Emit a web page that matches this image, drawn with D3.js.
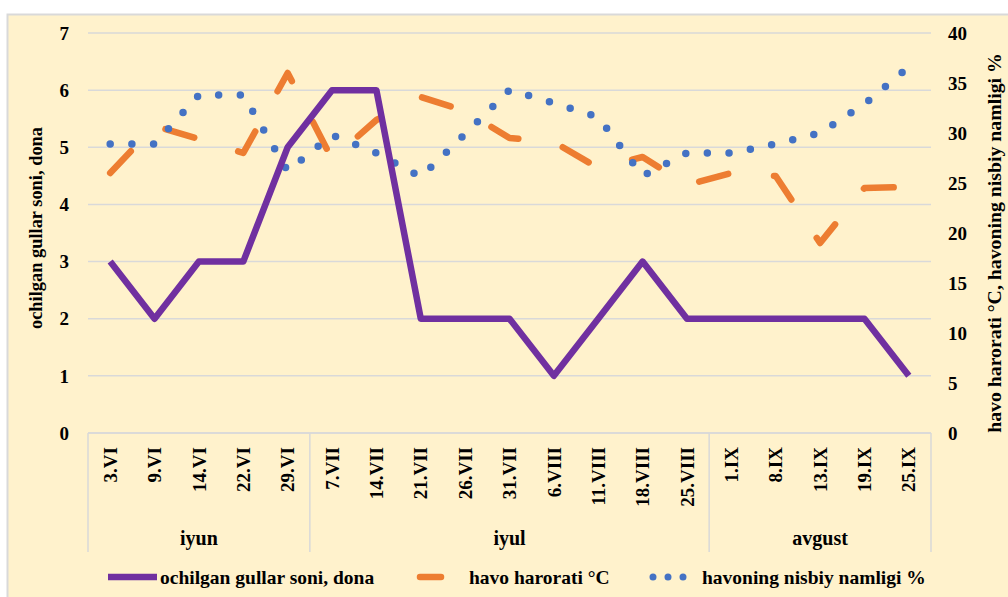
<!DOCTYPE html>
<html>
<head>
<meta charset="utf-8">
<script src="https://cdn.jsdelivr.net/npm/d3@7"></script>
<style>
  body { margin: 0; background: #fff; }
  text { font-family: "Liberation Serif", "Times New Roman", serif; font-weight: bold; fill: #000; }
</style>
</head>
<body>
<div id="chart"></div>
<script>
// Observation dates (category axis) and month groups
const categories = ["3.VI", "9.VI", "14.VI", "22.VI", "29.VI",
  "7.VII", "14.VII", "21.VII", "26.VII", "31.VII", "6.VIII", "11.VIII", "18.VIII", "25.VIII",
  "1.IX", "8.IX", "13.IX", "19.IX", "25.IX"];
const monthNames = ["iyun", "iyul", "avgust"];
const monthSizes = [5, 9, 5];

// Series values
const flowers = [3, 2, 3, 3, 5, 6, 6, 2, 2, 2, 1, 2, 3, 2, 2, 2, 2, 2, 1];
const temperature = [26, 30.7, 29.4, 28, 36, 27.4, 31.3, 33.6, 32.2, 29.5, 29.1, 26.5, 27.6, 24.8, 26, 25.7, 19, 24.5, 24.6];
const humidity = [28.9, 28.9, 33.8, 33.8, 26.2, 29.8, 28, 25.6, 29.9, 34.3, 33, 31.6, 25.7, 28, 28, 28.9, 30, 32.9, 36.6];

const leftTicks = [0, 1, 2, 3, 4, 5, 6, 7];
const rightTicks = [0, 5, 10, 15, 20, 25, 30, 35, 40];

const seriesNames = ["ochilgan gullar soni, dona", "havo harorati °C", "havoning nisbiy namligi %"];

const width = 1008;
const height = 597;
const plot = { left: 88, right: 931, top: 33, bottom: 433 };

const colors = { flowers: "#7030A0", temp: "#ED7D31", hum: "#4472C4", grid: "#D9D9D9" };

const svg = d3.select("#chart")
  .append("svg")
  .attr("width", width)
  .attr("height", height);

// Chart area background + border
svg.append("rect")
  .attr("x", 7.5)
  .attr("y", 14.5)
  .attr("width", width + 10)
  .attr("height", height + 10)
  .attr("fill", "#FFF2CC")
  .attr("stroke", colors.grid)
  .attr("stroke-width", 2);

const x = d3.scaleBand()
  .domain(categories)
  .range([plot.left, plot.right]);
const cx = d => x(d) + x.bandwidth() / 2;

const yLeft = d3.scaleLinear().domain([0, 7]).range([plot.bottom, plot.top]);
const yRight = d3.scaleLinear().domain([0, 40]).range([plot.bottom, plot.top]);

// Gridlines
svg.append("g")
  .selectAll("line")
  .data(leftTicks)
  .join("line")
  .attr("x1", plot.left)
  .attr("x2", plot.right)
  .attr("y1", d => yLeft(d))
  .attr("y2", d => yLeft(d))
  .attr("stroke", colors.grid)
  .attr("stroke-width", 1.5);

// Left tick labels
svg.append("g")
  .selectAll("text")
  .data(leftTicks)
  .join("text")
  .attr("x", 69)
  .attr("y", d => yLeft(d))
  .attr("dy", "0.35em")
  .attr("text-anchor", "end")
  .attr("font-size", 19)
  .text(d => d);

// Right tick labels
svg.append("g")
  .selectAll("text")
  .data(rightTicks)
  .join("text")
  .attr("x", 948)
  .attr("y", d => yRight(d))
  .attr("dy", "0.35em")
  .attr("font-size", 19)
  .text(d => d);

// Axis titles
svg.append("text")
  .attr("text-anchor", "middle")
  .attr("transform", `translate(36,${(plot.top + plot.bottom) / 2 - 5}) rotate(-90)`)
  .attr("dy", "0.35em")
  .attr("font-size", 18.4)
  .text("ochilgan gullar soni, dona");

svg.append("text")
  .attr("text-anchor", "middle")
  .attr("transform", `translate(994,${(plot.top + plot.bottom) / 2 + 10}) rotate(-90)`)
  .attr("dy", "0.35em")
  .attr("font-size", 19.8)
  .text("havo harorati °C, havoning nisbiy namligi %");

// Multi-level category axis
const axisBottom = 552;
let start = 0;
const groups = monthNames.map((name, i) => {
  const g = { name, from: categories[start], to: categories[start + monthSizes[i] - 1] };
  start += monthSizes[i];
  return g;
});
const separators = [plot.left].concat(groups.map(g => x(g.to) + x.bandwidth()));

svg.append("line")
  .attr("x1", plot.left)
  .attr("x2", plot.right)
  .attr("y1", plot.bottom)
  .attr("y2", plot.bottom)
  .attr("stroke", colors.grid)
  .attr("stroke-width", 1.5);

svg.append("g")
  .selectAll("line")
  .data(separators)
  .join("line")
  .attr("x1", d => d)
  .attr("x2", d => d)
  .attr("y1", plot.bottom)
  .attr("y2", axisBottom)
  .attr("stroke", colors.grid)
  .attr("stroke-width", 1.5);

svg.append("g")
  .selectAll("text")
  .data(categories)
  .join("text")
  .attr("text-anchor", "end")
  .attr("transform", d => `translate(${cx(d)},447) rotate(-90)`)
  .attr("dy", "0.35em")
  .attr("font-size", 19)
  .text(d => d);

svg.append("g")
  .selectAll("text")
  .data(groups)
  .join("text")
  .attr("text-anchor", "middle")
  .attr("x", g => (x(g.from) + x(g.to) + x.bandwidth()) / 2)
  .attr("y", 538)
  .attr("dy", "0.35em")
  .attr("font-size", 20)
  .text(g => g.name);

// Series lines
const lineLeft = d3.line().x((d, i) => cx(categories[i])).y(d => yLeft(d));
const lineRight = d3.line().x((d, i) => cx(categories[i])).y(d => yRight(d));

svg.append("path")
  .datum(temperature)
  .attr("fill", "none")
  .attr("stroke", colors.temp)
  .attr("stroke-width", 6.5)
  .attr("stroke-linecap", "round")
  .attr("stroke-linejoin", "round")
  .attr("stroke-dasharray", "30 46")
  .attr("d", lineRight);

svg.append("path")
  .datum(humidity)
  .attr("fill", "none")
  .attr("stroke", colors.hum)
  .attr("stroke-width", 7.5)
  .attr("stroke-linecap", "round")
  .attr("stroke-dasharray", "0 21.7")
  .attr("d", lineRight);

svg.append("path")
  .datum(flowers)
  .attr("fill", "none")
  .attr("stroke", colors.flowers)
  .attr("stroke-width", 6.5)
  .attr("stroke-linejoin", "round")
  .attr("d", lineLeft);

// Legend
const legendY = 577;
const legend = svg.append("g");

legend.append("line")
  .attr("x1", 108).attr("x2", 157)
  .attr("y1", legendY).attr("y2", legendY)
  .attr("stroke", colors.flowers)
  .attr("stroke-width", 6.5);
legend.append("text")
  .attr("x", 160).attr("y", legendY).attr("dy", "0.35em")
  .attr("font-size", 19.5)
  .text(seriesNames[0]);

legend.append("line")
  .attr("x1", 420).attr("x2", 441)
  .attr("y1", legendY).attr("y2", legendY)
  .attr("stroke", colors.temp)
  .attr("stroke-width", 6.5)
  .attr("stroke-linecap", "round");
legend.append("text")
  .attr("x", 469).attr("y", legendY).attr("dy", "0.35em")
  .attr("font-size", 19.5)
  .text(seriesNames[1]);

legend.append("line")
  .attr("x1", 653).attr("x2", 684)
  .attr("y1", legendY).attr("y2", legendY)
  .attr("stroke", colors.hum)
  .attr("stroke-width", 7)
  .attr("stroke-linecap", "round")
  .attr("stroke-dasharray", "0 15");
legend.append("text")
  .attr("x", 702).attr("y", legendY).attr("dy", "0.35em")
  .attr("font-size", 19.5)
  .text(seriesNames[2]);
</script>
</body>
</html>
